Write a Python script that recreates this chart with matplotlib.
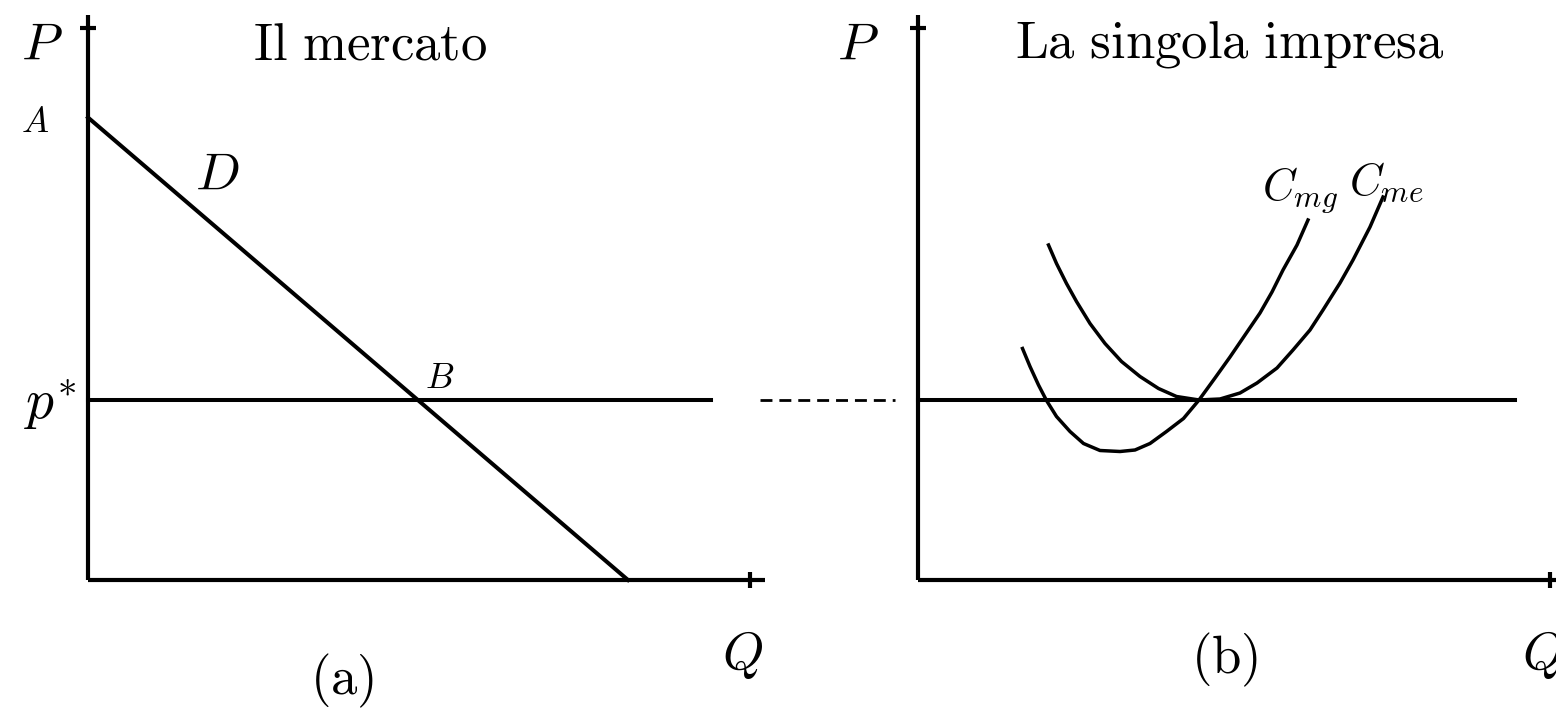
import matplotlib
matplotlib.use("Agg")
import matplotlib.pyplot as plt

plt.rcParams["mathtext.fontset"] = "cm"
plt.rcParams["font.family"] = ["DejaVu Serif"]

# market panel (a)
demand_q = [0.0, 10.8]
demand_p = [9.25, 0.0]
p_star = 3.6
market_line_q = [0.0, 12.45]
dash_q = [13.44, 16.14]

# single firm panel (b)
firm_line_q = [0.0, 11.94]
mc_q = [2.09, 2.24, 2.41, 2.57, 2.77, 3.04, 3.31, 3.64, 4.04, 4.34, 4.64, 4.97,
        5.31, 5.62, 5.94, 6.24, 6.54, 6.84, 7.08, 7.30, 7.58, 7.80]
mc_p = [4.63, 4.27, 3.90, 3.59, 3.27, 2.97, 2.73, 2.59, 2.57, 2.60, 2.73, 2.97,
        3.23, 3.60, 4.04, 4.46, 4.90, 5.34, 5.76, 6.20, 6.70, 7.20]
ac_q = [2.61, 2.77, 2.97, 3.17, 3.44, 3.74, 4.07, 4.44, 4.81, 5.17, 5.62, 6.04,
        6.44, 6.78, 7.18, 7.50, 7.84, 8.10, 8.44, 8.70, 9.04, 9.30]
ac_p = [6.70, 6.33, 5.93, 5.57, 5.13, 4.73, 4.37, 4.07, 3.83, 3.67, 3.60, 3.62,
        3.74, 3.94, 4.24, 4.60, 5.00, 5.40, 5.94, 6.40, 7.06, 7.66]

W, H = 1556, 714
fig = plt.figure(figsize=(W / 100, H / 100), dpi=100)
fig.patch.set_facecolor("white")

unit = 50.0  # pixels per data unit
y_top, y_bot = 15, 580


def make_axes(x0, x1):
    ax = fig.add_axes([x0 / W, (H - y_bot) / H, (x1 - x0) / W, (y_bot - y_top) / H])
    ax.set_xlim(0, (x1 - x0) / unit)
    ax.set_ylim(0, (y_bot - y_top) / unit)
    for s in ["top", "right"]:
        ax.spines[s].set_visible(False)
    for s in ["left", "bottom"]:
        ax.spines[s].set_linewidth(3.0)
        ax.spines[s].set_capstyle("butt")
    ax.set_xticks([])
    ax.set_yticks([])
    ax.patch.set_alpha(0)
    return ax


big = 38
lw = 2.9

ax1 = make_axes(88, 765)
ax1.plot(demand_q, demand_p, color="black", lw=lw, clip_on=False)
ax1.plot(market_line_q, [p_star, p_star], color="black", lw=lw, clip_on=False)
dl, = ax1.plot(dash_q, [p_star, p_star], color="black", lw=2.0, clip_on=False)
dl.set_dashes((4.3, 2.5))
# arrow ends of axes
ax1.plot([0], [11.04], marker="_", ms=12, mew=3, color="black", clip_on=False)
ax1.plot([13.24], [0], marker="|", ms=12, mew=3, color="black", clip_on=False)

ax1.text(-0.92, 10.7, "$P$", fontsize=big, ha="center", va="center")
ax1.text(5.64, 10.7, r"$\mathrm{Il\ mercato}$", fontsize=big, ha="center", va="center")
ax1.text(-1.06, 9.16, "$A$", fontsize=26, ha="center", va="center")
ax1.text(2.58, 8.1, "$D$", fontsize=big, ha="center", va="center")
ax1.text(-0.76, 3.5, "$p^{*}$", fontsize=40, ha="center", va="center")
ax1.text(7.04, 4.04, "$B$", fontsize=26, ha="center", va="center")
ax1.text(13.08, -1.5, "$Q$", fontsize=big, ha="center", va="center")
ax1.text(5.08, -2.02, r"$\mathrm{(a)}$", fontsize=big, ha="center", va="center")

ax2 = make_axes(918, 1556)
ax2.plot(firm_line_q, [p_star, p_star], color="black", lw=lw, clip_on=False)
ax2.plot(mc_q, mc_p, color="black", lw=2.5, solid_joinstyle="round")
ax2.plot(ac_q, ac_p, color="black", lw=2.5, solid_joinstyle="round")
ax2.plot([0], [11.04], marker="_", ms=12, mew=3, color="black", clip_on=False)
ax2.plot([12.64], [0], marker="|", ms=12, mew=3, color="black", clip_on=False)

ax2.text(-1.2, 10.7, "$P$", fontsize=big, ha="center", va="center")
ax2.text(6.24, 10.7, r"$\mathrm{La\ singola\ impresa}$", fontsize=big, ha="center", va="center")
ax2.text(7.64, 7.8, "$C_{mg}$", fontsize=32, ha="center", va="center")
ax2.text(9.36, 7.95, "$C_{me}$", fontsize=32, ha="center", va="center")
ax2.text(12.5, -1.5, "$Q$", fontsize=big, ha="center", va="center", clip_on=False)
ax2.text(6.14, -1.6, r"$\mathrm{(b)}$", fontsize=big, ha="center", va="center")

fig.savefig("out.png", dpi=100, facecolor="white")
